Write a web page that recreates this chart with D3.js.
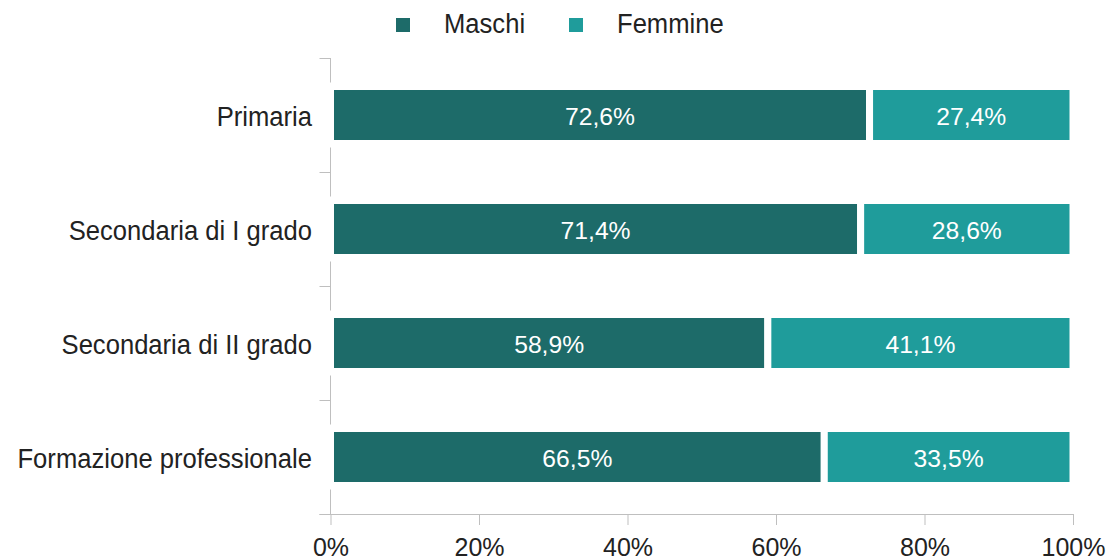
<!DOCTYPE html>
<html>
<head>
<meta charset="utf-8">
<script src="https://cdn.jsdelivr.net/npm/d3@7"></script>
<style>
  body { margin: 0; background: #fff; }
  text { font-family: "Liberation Sans", Arial, sans-serif; }
</style>
</head>
<body>
<svg id="chart" width="1110" height="560"></svg>
<script>
const categories = ["Primaria", "Secondaria di I grado", "Secondaria di II grado", "Formazione professionale"];
const maschi = [72.6, 71.4, 58.9, 66.5];
const femmine = [27.4, 28.6, 41.1, 33.5];
const seriesNames = ["Maschi", "Femmine"];
const colors = ["#1d6b69", "#1f9c9b"];
const xTicks = [0, 20, 40, 60, 80, 100];

const svg = d3.select("#chart");
const margin = {top: 58, left: 330.5, right: 37, bottom: 46};
const W = 1110, H = 560;
const stretch = 1.1; // labels in the original look slightly tall

const x = d3.scaleLinear().domain([0, 100]).range([margin.left, W - margin.right]);
const y = d3.scaleBand().domain(categories).range([margin.top, H - margin.bottom]).paddingInner(0.5).paddingOuter(0.25);

const fmt = v => d3.format(".1f")(v).replace(".", ",") + "%";

  // x axis
const gx = svg.append("g")
    .attr("transform", "translate(0," + (H - margin.bottom) + ")")
    .call(d3.axisBottom(x).tickValues(xTicks).tickSize(11).tickSizeOuter(0).tickFormat(d => d + "%"));
gx.select(".domain").attr("stroke", "#bfbfbf").attr("d", "M" + (margin.left - 11) + ",0.5H" + (x(100) + 0.5));
gx.selectAll(".tick line").attr("stroke", "#bfbfbf");
gx.selectAll(".tick text")
    .attr("dy", "0").attr("y", 41.5)
    .attr("font-size", "25px").attr("fill", "#222")
    .style("font-family", "'Liberation Sans', Arial, sans-serif");

  // y axis: ticks at band boundaries
const boundaryYs = d3.range(categories.length + 1).map(i => margin.top + i * (H - margin.bottom - margin.top) / categories.length);
const gy = svg.append("g");
gy.append("line")
    .attr("x1", margin.left).attr("x2", margin.left)
    .attr("y1", margin.top).attr("y2", H - margin.bottom)
    .attr("stroke", "#bfbfbf");
gy.selectAll("line.tick").data(boundaryYs).join("line")
    .attr("class", "tick")
    .attr("x1", margin.left - 11).attr("x2", margin.left)
    .attr("y1", d => Math.round(d) + 0.5).attr("y2", d => Math.round(d) + 0.5)
    .attr("stroke", "#bfbfbf");

  // bars
const rows = categories.map((c, i) => ({cat: c, vals: [maschi[i], femmine[i]]}));
const rowG = svg.append("g").selectAll("g").data(rows).join("g");

  // white backing gaps the y axis line around each bar
rowG.append("rect")
    .attr("x", margin.left - 3)
    .attr("y", d => y(d.cat) - 4)
    .attr("width", 10)
    .attr("height", y.bandwidth() + 8)
    .attr("fill", "#fff");

rowG.each(function(d) {
  let start = 0;
  const segs = d.vals.map((v, j) => { const s = {x0: start, x1: start + v, v: v, j: j}; start += v; return s; });
  const g = d3.select(this);
  g.selectAll("rect.bar").data(segs).join("rect")
      .attr("class", "bar")
      .attr("x", s => x(s.x0))
      .attr("y", y(d.cat))
      .attr("width", s => x(s.x1) - x(s.x0))
      .attr("height", y.bandwidth())
      .attr("fill", s => colors[s.j])
      .attr("stroke", "#fff")
      .attr("stroke-width", 7);
  g.selectAll("text.val").data(segs).join("text")
      .attr("class", "val")
      .attr("x", s => (x(s.x0) + x(s.x1)) / 2)
      .attr("y", y(d.cat) + y.bandwidth() / 2 + 9.5)
      .attr("text-anchor", "middle")
      .attr("font-size", "24.7px")
      .attr("fill", "#fff")
      .text(s => fmt(s.v));
});

  // category labels
svg.append("g").selectAll("text").data(categories).join("text")
    .attr("transform", d => "translate(312," + (y(d) + y.bandwidth() / 2 + 10.5) + ") scale(1," + stretch + ")")
    .attr("text-anchor", "end")
    .attr("font-size", "25.6px")
    .attr("fill", "#222")
    .text(d => d);

  // legend
const legendX = [396, 569];
const lg = svg.append("g").selectAll("g").data(seriesNames).join("g")
    .attr("transform", (d, i) => "translate(" + legendX[i] + ",0)");
lg.append("rect").attr("x", 0).attr("y", 18).attr("width", 14).attr("height", 14)
    .attr("fill", (d, i) => colors[i]);
lg.append("text")
    .attr("transform", "translate(48,33) scale(1," + stretch + ")")
    .attr("font-size", "25.6px").attr("fill", "#222").text(d => d);
</script>
</body>
</html>
